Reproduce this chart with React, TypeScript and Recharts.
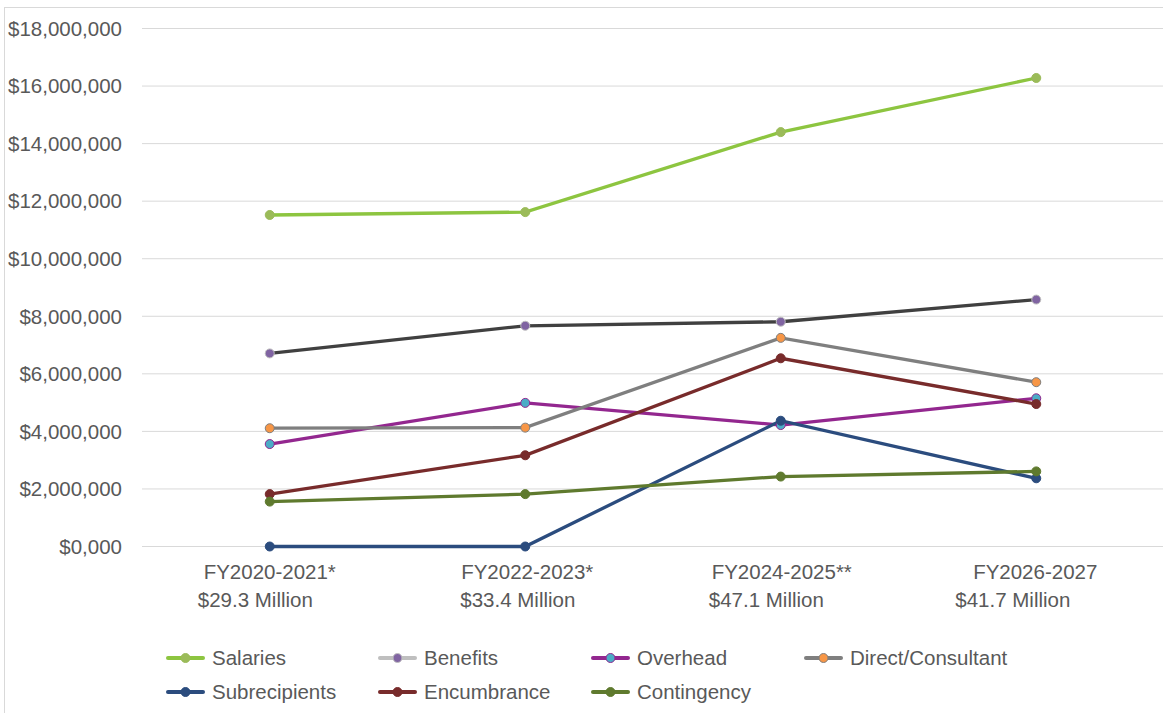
import React from "react";
import { LineChart, Line, XAxis, YAxis, CartesianGrid } from "recharts";

const CATEGORIES = ["FY2020-2021*", "FY2022-2023*", "FY2024-2025**", "FY2026-2027"];
const TOTALS = ["$29.3 Million", "$33.4 Million", "$47.1 Million", "$41.7 Million"];

const SALARIES = [11520000, 11620000, 14400000, 16280000];
const BENEFITS = [6710000, 7670000, 7810000, 8580000];
const OVERHEAD = [3560000, 4990000, 4220000, 5150000];
const DIRECT = [4110000, 4130000, 7250000, 5710000];
const SUBRECIPIENTS = [0, 0, 4370000, 2370000];
const ENCUMBRANCE = [1820000, 3170000, 6540000, 4950000];
const CONTINGENCY = [1560000, 1820000, 2430000, 2610000];

const Y_TICKS = [0, 2000000, 4000000, 6000000, 8000000, 10000000, 12000000, 14000000, 16000000, 18000000];
const Y_TICK_LABELS = ["$0,000", "$2,000,000", "$4,000,000", "$6,000,000", "$8,000,000", "$10,000,000", "$12,000,000", "$14,000,000", "$16,000,000", "$18,000,000"];

const SERIES = [
  { key: "Salaries", values: SALARIES, line: "#8DC540", legendLine: "#8DC540", fill: "#9BBB59", stroke: "#9BBB59" },
  { key: "Benefits", values: BENEFITS, line: "#404040", legendLine: "#BFBFBF", fill: "#8064A2", stroke: "#BFBFBF" },
  { key: "Overhead", values: OVERHEAD, line: "#93278F", legendLine: "#93278F", fill: "#4BACC6", stroke: "#93278F" },
  { key: "Direct/Consultant", values: DIRECT, line: "#7F7F7F", legendLine: "#7F7F7F", fill: "#F79646", stroke: "#7F7F7F" },
  { key: "Subrecipients", values: SUBRECIPIENTS, line: "#2B4C7E", legendLine: "#2B4C7E", fill: "#2B4C7E", stroke: "#2B4C7E" },
  { key: "Encumbrance", values: ENCUMBRANCE, line: "#782B2B", legendLine: "#782B2B", fill: "#782B2B", stroke: "#782B2B" },
  { key: "Contingency", values: CONTINGENCY, line: "#5F7A2E", legendLine: "#5F7A2E", fill: "#5F7A2E", stroke: "#5F7A2E" },
];

const data = CATEGORIES.map((c, i) => {
  const row: any = { category: c, total: TOTALS[i] };
  SERIES.forEach((s) => (row[s.key] = s.values[i]));
  return row;
});

const FONT = "'Liberation Sans', Arial, sans-serif";
const TEXT = "#595959";
const FS = 20.5;
const LINE2_SHIFT = [-72, -65, -72, -81];
const LINE1_SHIFT = [0, 2, 1, -1];

const XTick = (props: any) => {
  const { x, y, payload } = props;
  const i = payload.index;
  return (
    <g>
      <text x={x + LINE1_SHIFT[i]} y={y + 32} textAnchor="middle" fontSize={FS} fill={TEXT} fontFamily={FONT}>
        {payload.value}
      </text>
      <text x={x + LINE2_SHIFT[i]} y={y + 60} textAnchor="start" fontSize={FS} fill={TEXT} fontFamily={FONT}>
        {TOTALS[i]}
      </text>
    </g>
  );
};

const LegendBox = () => {
  const cols = [168, 380, 593, 806];
  const rows = [658, 692];
  return (
    <svg width={1163} height={713} style={{ position: "absolute", left: 0, top: 0, pointerEvents: "none" }}>
      {SERIES.map((s, i) => {
        const x = cols[i % 4];
        const y = rows[Math.floor(i / 4)];
        return (
          <g key={s.key}>
            <line x1={x} x2={x + 35} y1={y} y2={y} stroke={s.legendLine} strokeWidth={4} strokeLinecap="round" />
            <circle cx={x + 17.5} cy={y} r={4.5} fill={s.fill} stroke={s.stroke} strokeWidth={1} />
            <text x={x + 44} y={y + 7} fontSize={FS} fill={TEXT} fontFamily={FONT}>
              {s.key}
            </text>
          </g>
        );
      })}
    </svg>
  );
};

export default function App() {
  return (
    <div style={{ position: "absolute", left: 0, top: 0, width: 1163, height: 713, overflow: "hidden", background: "#fff" }}>
      <div style={{ position: "absolute", left: 4, top: 7, width: 1300, height: 900, border: "1.5px solid #D9D9D9" }} />
      <div style={{ position: "absolute", left: 0, top: 0 }}>
        <LineChart width={1163} height={713} data={data} margin={{ top: 28.5, right: -1, left: 0, bottom: 106.5 }}>
          <CartesianGrid vertical={false} stroke="#D9D9D9" strokeWidth={1} />
          <XAxis
            dataKey="category"
            height={60}
            padding={{ left: 127.75, right: 127.75 }}
            axisLine={false}
            tickLine={false}
            tickSize={0}
            tickMargin={0}
            interval={0}
            tick={<XTick />}
          />
          <YAxis
            width={142}
            domain={[0, 18000000]}
            ticks={Y_TICKS}
            axisLine={false}
            tickLine={false}
            tickSize={0}
            tickMargin={20}
            interval={0}
            tickFormatter={(v: number) => Y_TICK_LABELS[Y_TICKS.indexOf(v)]}
            tick={{ fill: TEXT, fontSize: FS, fontFamily: FONT }}
          />
          {SERIES.map((s) => (
            <Line
              key={s.key}
              dataKey={s.key}
              stroke={s.line}
              strokeWidth={3.3}
              dot={{ r: 4.5, fill: s.fill, stroke: s.stroke, strokeWidth: 1 }}
              activeDot={false}
              isAnimationActive={false}
            />
          ))}
        </LineChart>
      </div>
      <LegendBox />
    </div>
  );
}
